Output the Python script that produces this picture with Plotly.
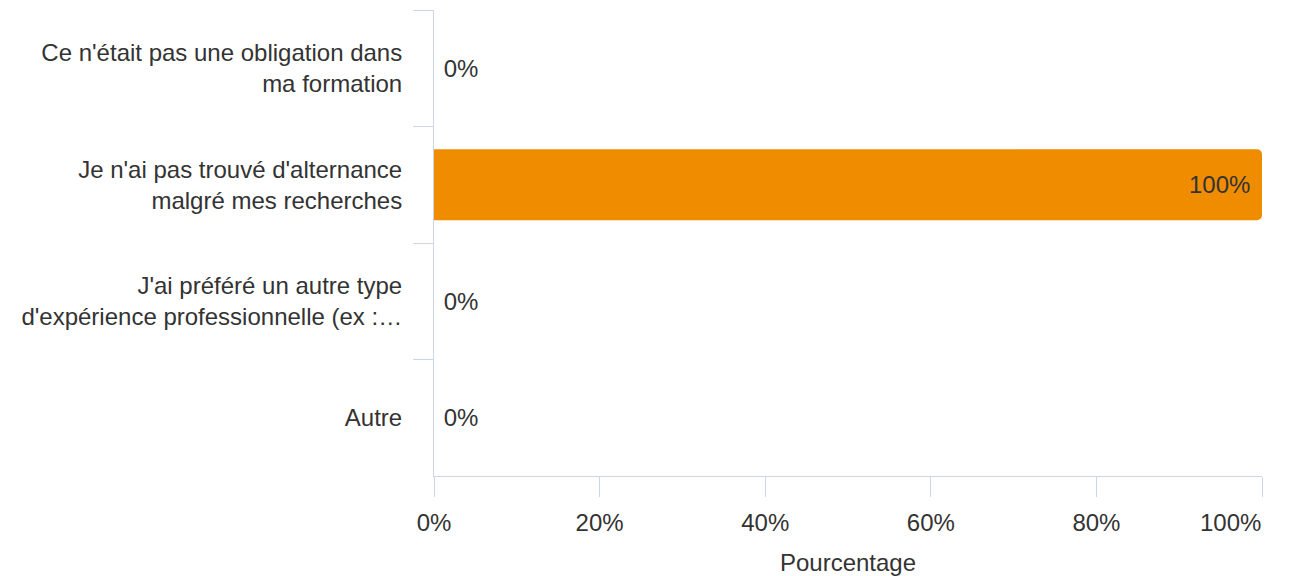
import plotly.graph_objects as go

categories = [
    "Ce n'était pas une obligation dans<br>ma formation",
    "Je n'ai pas trouvé d'alternance<br>malgré mes recherches",
    "J'ai préféré un autre type<br>d'expérience professionnelle (ex :…",
    "Autre",
]
values = [0, 100, 0, 0]
value_labels = ["0%", "100%", "0%", "0%"]
x_ticks = [0, 20, 40, 60, 80, 100]
x_tick_labels = ["0%", "20%", "40%", "60%", "80%", "100%"]
x_title = "Pourcentage"

FONT = "Liberation Sans, Arial, sans-serif"
TXT = "#333333"
AX = "#ccd6eb"
FS = 24
NB = "\u00a0"

# the last tick label is drawn right-aligned to its tick (kept inside the edge)
x_tick_text = x_tick_labels[:-1] + [""]

fig = go.Figure(
    go.Bar(
        x=values,
        y=categories,
        orientation="h",
        marker=dict(color="#f08c00", line=dict(width=0), cornerradius=5),
        text=value_labels,
        texttemplate=[NB + "%{text}" if v == 0 else "%{text}" + NB for v in values],
        textposition=["outside" if v == 0 else "inside" for v in values],
        insidetextanchor="end",
        textfont=dict(family=FONT, size=FS, color=TXT),
        cliponaxis=False,
        hoverinfo="skip",
    )
)

fig.add_annotation(
    x=x_ticks[-1],
    xref="x",
    y=0,
    yref="paper",
    text=x_tick_labels[-1],
    showarrow=False,
    xanchor="right",
    yanchor="middle",
    yshift=-46,
    xshift=1,
    font=dict(family=FONT, size=FS, color=TXT),
)

fig.update_layout(
    width=1285,
    height=568,
    margin=dict(l=426, r=31, t=2, b=100),
    paper_bgcolor="white",
    plot_bgcolor="white",
    bargap=0.39,
    showlegend=False,
    font=dict(family=FONT, size=FS, color=TXT),
)

fig.update_xaxes(
    range=[0, 100],
    tickvals=x_ticks,
    ticktext=x_tick_text,
    showgrid=False,
    zeroline=False,
    showline=True,
    linecolor=AX,
    linewidth=1,
    ticks="outside",
    ticklen=20,
    tickcolor=AX,
    tickwidth=1,
    ticklabelstandoff=5,
    automargin=False,
    tickfont=dict(family=FONT, size=FS, color=TXT),
    title=dict(text=x_title, font=dict(family=FONT, size=FS, color=TXT), standoff=21),
)

fig.update_yaxes(
    autorange="reversed",
    showgrid=False,
    zeroline=False,
    showline=True,
    linecolor=AX,
    linewidth=1,
    ticks="outside",
    tickson="boundaries",
    ticklen=20,
    tickcolor=AX,
    tickwidth=1,
    ticklabelstandoff=26,
    automargin=False,
    tickfont=dict(family=FONT, size=FS, color=TXT),
)

fig.write_html("out.html")
